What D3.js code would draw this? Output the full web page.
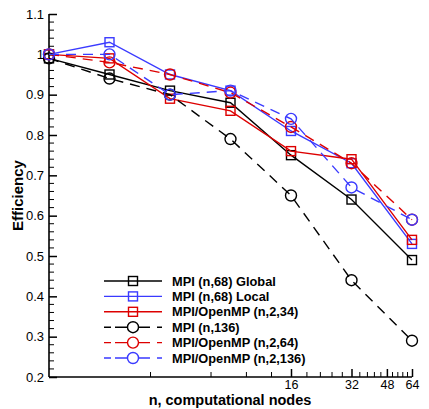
<!DOCTYPE html>
<html>
<head>
<meta charset="utf-8">
<script src="https://cdn.jsdelivr.net/npm/d3@7"></script>
<style>
  body { margin: 0; background: #fff; }
  svg { display: block; font-family: "Liberation Sans", Arial, sans-serif; }
</style>
</head>
<body>
<div id="chart"></div>
<script>
// node counts on x
const nodes = [1, 2, 4, 8, 16, 32, 64];

// efficiency per run
const mpiGlobal = [0.99, 0.95, 0.91, 0.88, 0.75, 0.64, 0.49];
const mpiLocal = [1.0, 1.03, 0.95, 0.91, 0.81, 0.73, 0.53];
const hybrid34 = [1.0, 0.99, 0.89, 0.86, 0.76, 0.74, 0.54];
const mpi136 = [0.99, 0.94, 0.90, 0.79, 0.65, 0.44, 0.29];
const hybrid64 = [1.0, 0.98, 0.95, 0.905, 0.82, 0.73, 0.59];
const hybrid136 = [1.0, 1.0, 0.90, 0.91, 0.84, 0.67, 0.59];

const seriesNames = ["MPI (n,68) Global", "MPI (n,68) Local", "MPI/OpenMP (n,2,34)",
  "MPI (n,136)", "MPI/OpenMP (n,2,64)", "MPI/OpenMP (n,2,136)"];

const xTicks = [16, 32, 48, 64];
const yTicks = [0.2, 0.3, 0.4, 0.5, 0.6, 0.7, 0.8, 0.9, 1.0, 1.1];

const series = [
  { name: seriesNames[0], values: mpiGlobal, color: "#000000", dashed: false, marker: "square" },
  { name: seriesNames[1], values: mpiLocal, color: "#3a3aff", dashed: false, marker: "square" },
  { name: seriesNames[2], values: hybrid34, color: "#dd0000", dashed: false, marker: "square" },
  { name: seriesNames[3], values: mpi136, color: "#000000", dashed: true, marker: "circle" },
  { name: seriesNames[4], values: hybrid64, color: "#dd0000", dashed: true, marker: "circle" },
  { name: seriesNames[5], values: hybrid136, color: "#3a3aff", dashed: true, marker: "circle" }
];

const W = 429, H = 409;
const margin = { top: 14, right: 17, bottom: 32, left: 49 };
const width = W - margin.left - margin.right,
    height = H - margin.top - margin.bottom;

const svg = d3.select("#chart").append("svg")
    .attr("width", W)
    .attr("height", H);

const g = svg.append("g")
    .attr("transform", `translate(${margin.left},${margin.top})`);

const x = d3.scaleLog().base(2).domain([1, 64]).range([0, width]);
const y = d3.scaleLinear().domain([0.2, 1.1]).range([height, 0]);

// y axis: major ticks pointing inward, minor every 0.02
const yMinor = d3.range(0.2, 1.1001, 0.02).filter(v => Math.abs(v * 10 - Math.round(v * 10)) > 1e-6);
g.append("g")
    .selectAll("line.minor")
    .data(yMinor)
    .join("line")
    .attr("x1", 0).attr("x2", 5)
    .attr("y1", d => y(d)).attr("y2", d => y(d))
    .attr("stroke", "#000").attr("stroke-width", 1);

const yAxis = g.append("g")
    .call(d3.axisRight(y).tickValues(yTicks).tickSize(8)
      .tickFormat(d => Math.abs(d - 1) < 1e-9 ? "1" : d3.format(".1f")(d)));
yAxis.select(".domain").remove();
yAxis.selectAll(".tick line").attr("stroke-width", 1.5);
yAxis.selectAll(".tick text")
    .attr("x", -5)
    .attr("text-anchor", "end")
    .style("font-size", "13px")
    .style("font-family", "'Liberation Sans', Arial, sans-serif")
    .attr("fill", "#000");

// x axis: log scale with labelled ticks, minor ticks every 3.2
const xMinor = d3.range(1, 20).filter(i => i % 5 !== 0).map(i => i * 3.2);
g.append("g")
    .selectAll("line.minor")
    .data(xMinor)
    .join("line")
    .attr("x1", d => x(d)).attr("x2", d => x(d))
    .attr("y1", height).attr("y2", height - 5)
    .attr("stroke", "#000").attr("stroke-width", 1);

const xAxis = g.append("g")
    .attr("transform", `translate(0,${height})`)
    .call(d3.axisTop(x).tickValues(xTicks).tickSize(8).tickFormat(d3.format("d")));
xAxis.select(".domain").remove();
xAxis.selectAll(".tick line").attr("stroke-width", 1.5);
xAxis.selectAll(".tick text")
    .attr("y", 11.5)
    .attr("dy", 0)
    .style("font-size", "12.5px")
    .style("font-family", "'Liberation Sans', Arial, sans-serif")
    .attr("fill", "#000");

// axis lines
g.append("line")
    .attr("x1", 0).attr("x2", 0).attr("y1", 0).attr("y2", height)
    .attr("stroke", "#000").attr("stroke-width", 1.6);
g.append("line")
    .attr("x1", 0).attr("x2", width).attr("y1", height).attr("y2", height)
    .attr("stroke", "#000").attr("stroke-width", 1.6);

// axis titles
svg.append("text")
    .attr("transform", `translate(23,${margin.top + height / 2}) rotate(-90)`)
    .attr("text-anchor", "middle")
    .style("font-size", "15px")
    .style("font-weight", "bold")
    .text("Efficiency");

svg.append("text")
    .attr("x", 230)
    .attr("y", 405)
    .attr("text-anchor", "middle")
    .style("font-size", "14.5px")
    .style("font-weight", "bold")
    .text("n, computational nodes");

// draw the series
const line = d3.line()
    .x((d, i) => x(nodes[i]))
    .y(d => y(d));

function drawMarker(sel, type, color) {
  if (type === "square") {
    sel.append("rect")
      .attr("x", -4.5).attr("y", -4.5)
      .attr("width", 9).attr("height", 9)
      .attr("fill", "none")
      .attr("stroke", color).attr("stroke-width", 1.4);
  } else {
    sel.append("circle")
      .attr("r", 5.5)
      .attr("fill", "none")
      .attr("stroke", color).attr("stroke-width", 1.4);
  }
}

series.forEach(s => {
  g.append("path")
    .datum(s.values)
    .attr("d", line)
    .attr("fill", "none")
    .attr("stroke", s.color)
    .attr("stroke-width", 1.4)
    .attr("stroke-dasharray", s.dashed ? "10,7" : null);

  g.selectAll(null)
    .data(s.values)
    .join("g")
    .attr("transform", (d, i) => `translate(${x(nodes[i])},${y(d)})`)
    .each(function () { drawMarker(d3.select(this), s.marker, s.color); });
});

// legend
const legend = svg.append("g").attr("transform", "translate(104,281)");
series.forEach((s, i) => {
  const row = legend.append("g").attr("transform", `translate(0,${i * 15.4})`);
  row.append("line")
    .attr("x1", 0).attr("x2", 58)
    .attr("stroke", s.color)
    .attr("stroke-width", 1.4)
    .attr("stroke-dasharray", s.dashed ? "7,4,12.5,11,11.5,7,5" : null);
  const m = row.append("g").attr("transform", "translate(29,0)");
  drawMarker(m, s.marker, s.color);
  row.append("text")
    .attr("x", 68)
    .attr("y", 4.5)
    .style("font-size", "12.8px")
    .style("font-weight", "bold")
    .text(s.name);
});
</script>
</body>
</html>
